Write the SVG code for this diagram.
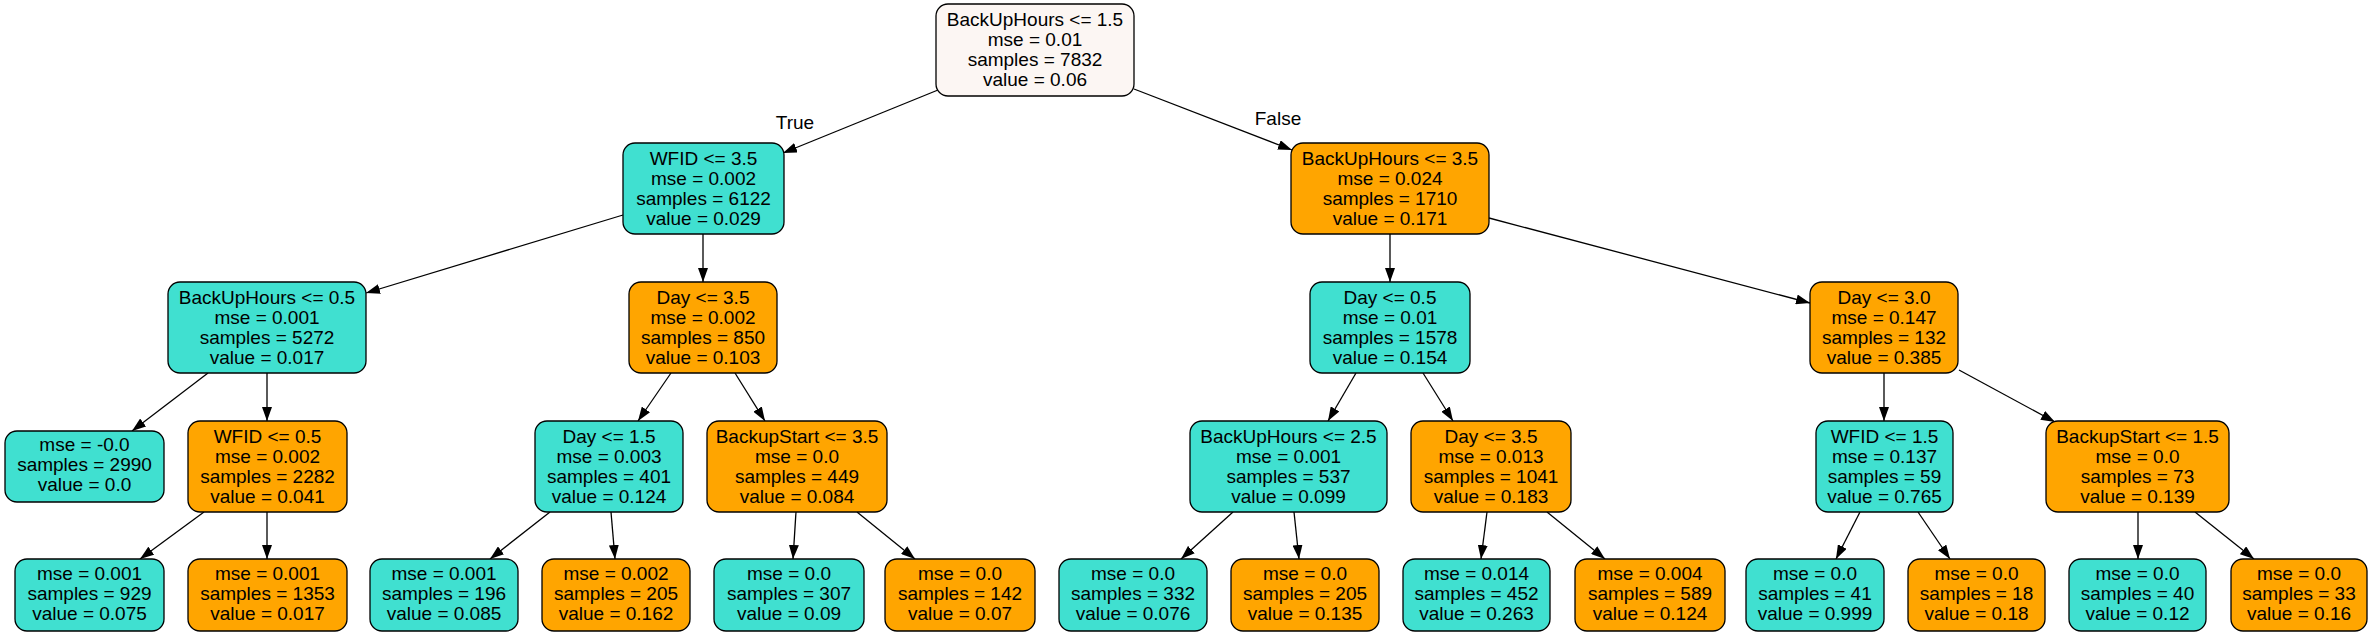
<svg xmlns="http://www.w3.org/2000/svg" width="2373" height="636" viewBox="0 0 2373 636">
<style>
.n rect{stroke:#000;stroke-width:1.3}
.t{fill:#40e0d0}
.o{fill:#ffa500}
.r{fill:#fcf6f3}
text{font-family:"Liberation Sans",Arial,sans-serif;font-size:19px;fill:#000;text-anchor:middle}
.e line{stroke:#000;stroke-width:1.3;marker-end:url(#ah)}
</style>
<defs>
<marker id="ah" viewBox="0 0 14 10" refX="14" refY="5" markerWidth="14" markerHeight="10" markerUnits="userSpaceOnUse" orient="auto">
<path d="M0,0 L14,5 L0,10 z" fill="#000"/>
</marker>
</defs>
<rect width="2373" height="636" fill="#fff"/>
<g id="edges" class="e">
<line x1="938" y1="90" x2="783" y2="153"/>
<line x1="1134" y1="89" x2="1292" y2="150"/>
<line x1="623" y1="215" x2="366" y2="293"/>
<line x1="703" y1="234" x2="703" y2="282"/>
<line x1="1390" y1="234" x2="1390" y2="282"/>
<line x1="1489" y1="218" x2="1810" y2="303"/>
<line x1="208" y1="373" x2="132" y2="431"/>
<line x1="267" y1="373" x2="267" y2="421"/>
<line x1="671" y1="373" x2="638" y2="421"/>
<line x1="735" y1="373" x2="765" y2="421"/>
<line x1="1356" y1="373" x2="1328" y2="421"/>
<line x1="1423" y1="373" x2="1453" y2="421"/>
<line x1="1884" y1="373" x2="1884" y2="421"/>
<line x1="1959" y1="370" x2="2055" y2="422"/>
<line x1="204" y1="512" x2="140" y2="559"/>
<line x1="267" y1="512" x2="267" y2="559"/>
<line x1="550" y1="512" x2="490" y2="559"/>
<line x1="611" y1="512" x2="615" y2="559"/>
<line x1="796" y1="512" x2="793" y2="559"/>
<line x1="857" y1="512" x2="915" y2="559"/>
<line x1="1233" y1="512" x2="1181" y2="559"/>
<line x1="1294" y1="512" x2="1299" y2="559"/>
<line x1="1487" y1="512" x2="1481" y2="559"/>
<line x1="1547" y1="512" x2="1605" y2="559"/>
<line x1="1860" y1="512" x2="1836" y2="559"/>
<line x1="1918" y1="512" x2="1950" y2="559"/>
<line x1="2138" y1="512" x2="2138" y2="559"/>
<line x1="2195" y1="512" x2="2254" y2="559"/>
<text x="795" y="129">True</text>
<text x="1278" y="125">False</text>
</g>
<g id="n0" class="n"><rect class="r" x="936" y="4" width="198" height="92" rx="12"/><text x="1035" y="26">BackUpHours &lt;= 1.5</text><text x="1035" y="46">mse = 0.01</text><text x="1035" y="66">samples = 7832</text><text x="1035" y="86">value = 0.06</text></g>
<g id="n1" class="n"><rect class="t" x="623" y="143" width="161" height="91" rx="12"/><text x="703.5" y="164.5">WFID &lt;= 3.5</text><text x="703.5" y="184.5">mse = 0.002</text><text x="703.5" y="204.5">samples = 6122</text><text x="703.5" y="224.5">value = 0.029</text></g>
<g id="n2" class="n"><rect class="o" x="1291" y="143" width="198" height="91" rx="12"/><text x="1390" y="164.5">BackUpHours &lt;= 3.5</text><text x="1390" y="184.5">mse = 0.024</text><text x="1390" y="204.5">samples = 1710</text><text x="1390" y="224.5">value = 0.171</text></g>
<g id="n3" class="n"><rect class="t" x="168" y="282" width="198" height="91" rx="12"/><text x="267" y="303.5">BackUpHours &lt;= 0.5</text><text x="267" y="323.5">mse = 0.001</text><text x="267" y="343.5">samples = 5272</text><text x="267" y="363.5">value = 0.017</text></g>
<g id="n4" class="n"><rect class="o" x="629" y="282" width="148" height="91" rx="12"/><text x="703" y="303.5">Day &lt;= 3.5</text><text x="703" y="323.5">mse = 0.002</text><text x="703" y="343.5">samples = 850</text><text x="703" y="363.5">value = 0.103</text></g>
<g id="n5" class="n"><rect class="t" x="1310" y="282" width="160" height="91" rx="12"/><text x="1390" y="303.5">Day &lt;= 0.5</text><text x="1390" y="323.5">mse = 0.01</text><text x="1390" y="343.5">samples = 1578</text><text x="1390" y="363.5">value = 0.154</text></g>
<g id="n6" class="n"><rect class="o" x="1810" y="282" width="148" height="91" rx="12"/><text x="1884" y="303.5">Day &lt;= 3.0</text><text x="1884" y="323.5">mse = 0.147</text><text x="1884" y="343.5">samples = 132</text><text x="1884" y="363.5">value = 0.385</text></g>
<g id="n7" class="n"><rect class="t" x="5" y="431" width="159" height="71" rx="12"/><text x="84.5" y="451">mse = -0.0</text><text x="84.5" y="471">samples = 2990</text><text x="84.5" y="491">value = 0.0</text></g>
<g id="n8" class="n"><rect class="o" x="188" y="421" width="159" height="91" rx="12"/><text x="267.5" y="442.5">WFID &lt;= 0.5</text><text x="267.5" y="462.5">mse = 0.002</text><text x="267.5" y="482.5">samples = 2282</text><text x="267.5" y="502.5">value = 0.041</text></g>
<g id="n9" class="n"><rect class="t" x="535" y="421" width="148" height="91" rx="12"/><text x="609" y="442.5">Day &lt;= 1.5</text><text x="609" y="462.5">mse = 0.003</text><text x="609" y="482.5">samples = 401</text><text x="609" y="502.5">value = 0.124</text></g>
<g id="n10" class="n"><rect class="o" x="707" y="421" width="180" height="91" rx="12"/><text x="797" y="442.5">BackupStart &lt;= 3.5</text><text x="797" y="462.5">mse = 0.0</text><text x="797" y="482.5">samples = 449</text><text x="797" y="502.5">value = 0.084</text></g>
<g id="n11" class="n"><rect class="t" x="1190" y="421" width="197" height="91" rx="12"/><text x="1288.5" y="442.5">BackUpHours &lt;= 2.5</text><text x="1288.5" y="462.5">mse = 0.001</text><text x="1288.5" y="482.5">samples = 537</text><text x="1288.5" y="502.5">value = 0.099</text></g>
<g id="n12" class="n"><rect class="o" x="1411" y="421" width="160" height="91" rx="12"/><text x="1491" y="442.5">Day &lt;= 3.5</text><text x="1491" y="462.5">mse = 0.013</text><text x="1491" y="482.5">samples = 1041</text><text x="1491" y="502.5">value = 0.183</text></g>
<g id="n13" class="n"><rect class="t" x="1816" y="421" width="137" height="91" rx="12"/><text x="1884.5" y="442.5">WFID &lt;= 1.5</text><text x="1884.5" y="462.5">mse = 0.137</text><text x="1884.5" y="482.5">samples = 59</text><text x="1884.5" y="502.5">value = 0.765</text></g>
<g id="n14" class="n"><rect class="o" x="2046" y="421" width="183" height="91" rx="12"/><text x="2137.5" y="442.5">BackupStart &lt;= 1.5</text><text x="2137.5" y="462.5">mse = 0.0</text><text x="2137.5" y="482.5">samples = 73</text><text x="2137.5" y="502.5">value = 0.139</text></g>
<g id="n15" class="n"><rect class="t" x="15" y="559" width="149" height="72" rx="12"/><text x="89.5" y="579.5">mse = 0.001</text><text x="89.5" y="599.5">samples = 929</text><text x="89.5" y="619.5">value = 0.075</text></g>
<g id="n16" class="n"><rect class="o" x="188" y="559" width="159" height="72" rx="12"/><text x="267.5" y="579.5">mse = 0.001</text><text x="267.5" y="599.5">samples = 1353</text><text x="267.5" y="619.5">value = 0.017</text></g>
<g id="n17" class="n"><rect class="t" x="370" y="559" width="148" height="72" rx="12"/><text x="444" y="579.5">mse = 0.001</text><text x="444" y="599.5">samples = 196</text><text x="444" y="619.5">value = 0.085</text></g>
<g id="n18" class="n"><rect class="o" x="542" y="559" width="148" height="72" rx="12"/><text x="616" y="579.5">mse = 0.002</text><text x="616" y="599.5">samples = 205</text><text x="616" y="619.5">value = 0.162</text></g>
<g id="n19" class="n"><rect class="t" x="714" y="559" width="150" height="72" rx="12"/><text x="789" y="579.5">mse = 0.0</text><text x="789" y="599.5">samples = 307</text><text x="789" y="619.5">value = 0.09</text></g>
<g id="n20" class="n"><rect class="o" x="885" y="559" width="150" height="72" rx="12"/><text x="960" y="579.5">mse = 0.0</text><text x="960" y="599.5">samples = 142</text><text x="960" y="619.5">value = 0.07</text></g>
<g id="n21" class="n"><rect class="t" x="1059" y="559" width="148" height="72" rx="12"/><text x="1133" y="579.5">mse = 0.0</text><text x="1133" y="599.5">samples = 332</text><text x="1133" y="619.5">value = 0.076</text></g>
<g id="n22" class="n"><rect class="o" x="1231" y="559" width="148" height="72" rx="12"/><text x="1305" y="579.5">mse = 0.0</text><text x="1305" y="599.5">samples = 205</text><text x="1305" y="619.5">value = 0.135</text></g>
<g id="n23" class="n"><rect class="t" x="1403" y="559" width="147" height="72" rx="12"/><text x="1476.5" y="579.5">mse = 0.014</text><text x="1476.5" y="599.5">samples = 452</text><text x="1476.5" y="619.5">value = 0.263</text></g>
<g id="n24" class="n"><rect class="o" x="1575" y="559" width="150" height="72" rx="12"/><text x="1650" y="579.5">mse = 0.004</text><text x="1650" y="599.5">samples = 589</text><text x="1650" y="619.5">value = 0.124</text></g>
<g id="n25" class="n"><rect class="t" x="1746" y="559" width="138" height="72" rx="12"/><text x="1815" y="579.5">mse = 0.0</text><text x="1815" y="599.5">samples = 41</text><text x="1815" y="619.5">value = 0.999</text></g>
<g id="n26" class="n"><rect class="o" x="1908" y="559" width="137" height="72" rx="12"/><text x="1976.5" y="579.5">mse = 0.0</text><text x="1976.5" y="599.5">samples = 18</text><text x="1976.5" y="619.5">value = 0.18</text></g>
<g id="n27" class="n"><rect class="t" x="2069" y="559" width="137" height="72" rx="12"/><text x="2137.5" y="579.5">mse = 0.0</text><text x="2137.5" y="599.5">samples = 40</text><text x="2137.5" y="619.5">value = 0.12</text></g>
<g id="n28" class="n"><rect class="o" x="2231" y="559" width="136" height="72" rx="12"/><text x="2299" y="579.5">mse = 0.0</text><text x="2299" y="599.5">samples = 33</text><text x="2299" y="619.5">value = 0.16</text></g>
</svg>
